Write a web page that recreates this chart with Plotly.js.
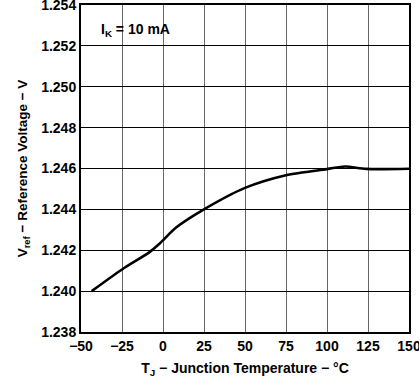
<!DOCTYPE html>
<html>
<head>
<meta charset="utf-8">
<script src="https://cdn.plot.ly/plotly-3.0.1.min.js"></script>
<style>html,body{margin:0;padding:0;background:#fff;}#chart{width:419px;height:379px;}</style>
</head>
<body>
<div id="chart"></div>
<script>
const temperature = [-43.5, -25, -8, -2, 8, 25, 50, 75, 100, 111, 124, 150];
const vref = [1.2400, 1.24106, 1.24192, 1.24233, 1.24311, 1.2440, 1.24505, 1.24567, 1.24597, 1.24610, 1.24598, 1.24599];
const xTicks = [-50, -25, 0, 25, 50, 75, 100, 125, 150];
const xTickText = ["\u221250", "\u221225", "0", "25", "50", "75", "100", "125", "150"];
const yTicks = [1.238, 1.240, 1.242, 1.244, 1.246, 1.248, 1.250, 1.252, 1.254];
const yTickText = yTicks.map(v => v.toFixed(3));
const annotationText = "I<sub>K</sub> = 10 mA";

const fam = "Liberation Sans, Arial, sans-serif";
const tickFont = {family: fam, size: 14, color: "#000", weight: "bold"};

Plotly.newPlot("chart", [{
  x: temperature, y: vref, mode: "lines", type: "scatter",
  line: {color: "#000", width: 2.6, shape: "spline", smoothing: 0.8},
  hoverinfo: "skip"
}], {
  width: 419, height: 379,
  margin: {l: 81, r: 10, t: 5, b: 47},
  paper_bgcolor: "#fff", plot_bgcolor: "#fff",
  showlegend: false,
  font: {family: fam, size: 13, color: "#000", weight: "bold"},
  xaxis: {
    range: [-50, 150], tickvals: xTicks, ticktext: xTickText,
    showgrid: true, gridcolor: "#666", gridwidth: 1,
    showline: true, linecolor: "#000", linewidth: 2, mirror: true,
    zeroline: false, ticks: "", ticklen: 0, ticklabeloverflow: "allow",
    tickfont: tickFont,
    title: {text: "T<sub>J</sub> \u2212 Junction Temperature \u2212 \u00b0C", font: {family: fam, size: 14, color: "#000", weight: "bold"}, standoff: 10}
  },
  yaxis: {
    range: [1.238, 1.254], tickvals: yTicks, ticktext: yTickText,
    showgrid: true, gridcolor: "#000", gridwidth: 1,
    showline: true, linecolor: "#000", linewidth: 2, mirror: true,
    zeroline: false, ticks: "", ticklen: 0, ticklabeloverflow: "allow",
    tickfont: tickFont,
    title: {text: "V<sub>ref</sub> \u2212 Reference Voltage \u2212 V", font: {family: fam, size: 13.5, color: "#000", weight: "bold"}, standoff: 10}
  },
  annotations: [{
    text: annotationText, xref: "x", yref: "y", x: -39, y: 1.2528,
    xanchor: "left", yanchor: "middle", showarrow: false,
    font: {family: fam, size: 14, color: "#000", weight: "bold"}
  }]
}, {staticPlot: true, displayModeBar: false});
</script>
</body>
</html>
